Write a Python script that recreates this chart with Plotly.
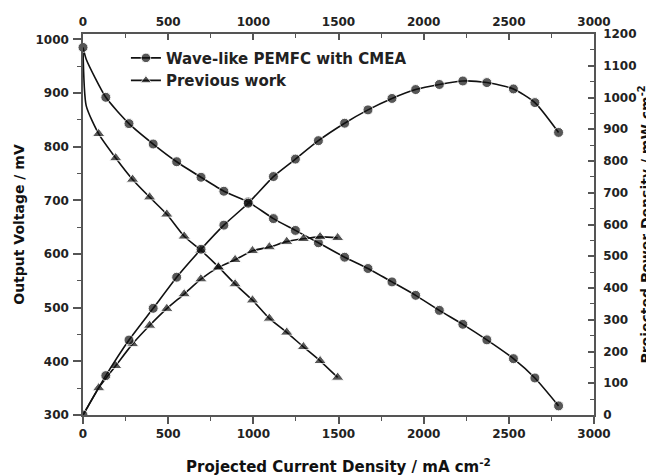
import plotly.graph_objects as go

# ---- data ----
wave_current = [0, 20, 134, 270, 412, 550, 693, 827, 970, 1118, 1247, 1382, 1536,
                1673, 1814, 1953, 2092, 2230, 2371, 2527, 2653, 2792]
wave_voltage = [985, 962, 892, 843, 805, 772, 743, 717, 697, 666, 644, 621, 594,
                573, 548, 523, 495, 469, 440, 405, 369, 317]
wave_power = [0, 19, 124, 236, 336, 434, 522, 598, 667, 751, 806, 864, 919,
              961, 997, 1025, 1041, 1052, 1047, 1027, 984, 890]

prev_current = [0, 19, 92, 192, 291, 391, 492, 594, 692, 795, 893, 995, 1094,
                1196, 1294, 1392, 1495]
prev_voltage = [982, 876, 824, 779, 739, 706, 674, 633, 607, 576, 544, 514, 480,
                454, 427, 401, 370]
prev_power = [0, 17, 85, 155, 224, 282, 335, 381, 428, 465, 489, 517, 529,
              546, 555, 561, 558]

x_ticks = [0, 500, 1000, 1500, 2000, 2500, 3000]
v_ticks = [300, 400, 500, 600, 700, 800, 900, 1000]
p_ticks = [0, 100, 200, 300, 400, 500, 600, 700, 800, 900, 1000, 1100, 1200]

x_title = "Projected Current Density / mA cm<sup>-2</sup>"
v_title = "Output Voltage / mV"
p_title = "Projected Power Density / mW cm<sup>-2</sup>"

# ---- styling ----
FONT = "DejaVu Sans"
INK = "#111111"
AXC = "#555555"
wave_sizes = [0 if i == 1 else 10 for i in range(len(wave_current))]
prev_sizes = [0 if i in (0, 1) else 11 for i in range(len(prev_current))]

line = dict(color=INK, width=1.6, shape="spline", smoothing=0.6)

fig = go.Figure()
fig.add_trace(go.Scatter(x=prev_current, y=prev_voltage, mode="lines+markers",
                         name="Previous work", line=line, legendrank=2,
                         marker=dict(symbol="triangle-up", size=prev_sizes, color=INK),
                         cliponaxis=False, xaxis="x", yaxis="y"))
fig.add_trace(go.Scatter(x=prev_current, y=prev_power, mode="lines+markers",
                         showlegend=False, line=line,
                         marker=dict(symbol="triangle-up", size=prev_sizes, color=INK),
                         xaxis="x", yaxis="y2"))
fig.add_trace(go.Scatter(x=wave_current, y=wave_voltage, mode="lines+markers",
                         name="Wave-like PEMFC with CMEA", line=line, legendrank=1,
                         marker=dict(symbol="circle", size=wave_sizes, color=INK),
                         cliponaxis=False, xaxis="x", yaxis="y"))
fig.add_trace(go.Scatter(x=wave_current, y=wave_power, mode="lines+markers",
                         showlegend=False, line=line,
                         marker=dict(symbol="circle", size=wave_sizes, color=INK),
                         xaxis="x", yaxis="y2"))
# invisible trace so the top axis is drawn
fig.add_trace(go.Scatter(x=[x_ticks[0]], y=[v_ticks[0]], mode="markers",
                         marker=dict(opacity=0), showlegend=False, hoverinfo="skip",
                         xaxis="x2", yaxis="y"))

tickfont = dict(family=FONT, size=12, color="#222222", weight="bold")
titlefont = dict(family=FONT, size=15, color="#111111", weight="bold")

common = dict(showline=True, linecolor=AXC, linewidth=1.5, showgrid=False,
              zeroline=False, tickcolor=AXC, tickwidth=1.5, tickfont=tickfont,
              automargin=False)

# the page has an 8px body margin, so the figure is 8px smaller than the window
fig.update_layout(
    width=646, height=468,
    margin=dict(l=75, r=60, t=26, b=61),
    paper_bgcolor="white", plot_bgcolor="white",
    font=dict(family=FONT, color=INK),
    showlegend=True,
    legend=dict(x=0.084, y=0.98, xanchor="left", yanchor="top",
                font=dict(family=FONT, size=15, color="#222222", weight="bold"),
                bgcolor="rgba(0,0,0,0)", tracegroupgap=0, itemwidth=30),
    xaxis=dict(range=[0, 3000], tickvals=x_ticks, ticks="outside", ticklen=7,
               minor=dict(dtick=250, ticks="outside", ticklen=4, tickcolor=AXC, tickwidth=1.2),
               title=dict(text=x_title, font=titlefont, standoff=22),
               **common),
    xaxis2=dict(range=[0, 3000], tickvals=x_ticks, overlaying="x", side="top",
                anchor="y", ticks="inside", ticklen=6, ticklabelstandoff=1,
                minor=dict(dtick=250, ticks="inside", ticklen=4, tickcolor=AXC, tickwidth=1.2),
                **common),
    yaxis=dict(range=[300, 1010], tickvals=v_ticks, ticks="outside", ticklen=8,
               ticklabelstandoff=2,
               minor=dict(dtick=50, ticks="outside", ticklen=4, tickcolor=AXC, tickwidth=1.2),
               title=dict(text=v_title, font=dict(titlefont, size=14), standoff=8),
               **common),
    yaxis2=dict(range=[0, 1200], tickvals=p_ticks, overlaying="y", side="right",
                anchor="x", ticks="inside", ticklen=6, ticklabelstandoff=5,
                minor=dict(dtick=50, ticks="inside", ticklen=4, tickcolor=AXC, tickwidth=1.2),
                title=dict(text=p_title, font=dict(titlefont, size=14), standoff=0),
                **common),
)

fig.write_html("out.html")
